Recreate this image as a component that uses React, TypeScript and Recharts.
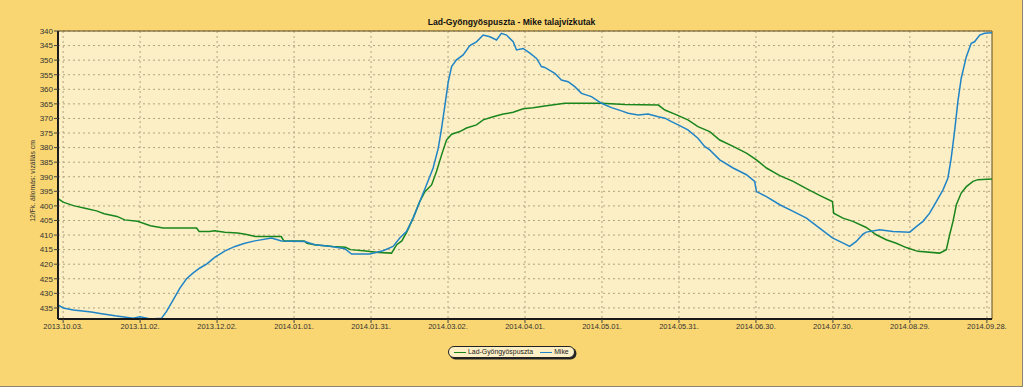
import React from 'react';
import { LineChart, Line, XAxis, YAxis, CartesianGrid, ReferenceArea } from 'recharts';

const TITLE = 'Lad-Gyöngyöspuszta - Mike talajvízkutak';
const Y_LABEL = '12/Fk. állomás: vízállás cm';
const SERIES_NAMES = ['Lad-Gyöngyöspuszta', 'Mike'];
const SERIES_COLORS = ['#19861c', '#1f84c6'];

// day offsets counted from 2013.10.01.
const TICK_DAYS = [2, 32, 62, 92, 122, 152, 182, 212, 242, 272, 302, 332, 362];
const TICK_LABELS = [
  '2013.10.03.', '2013.11.02.', '2013.12.02.', '2014.01.01.', '2014.01.31.', '2014.03.02.',
  '2014.04.01.', '2014.05.01.', '2014.05.31.', '2014.06.30.', '2014.07.30.', '2014.08.29.', '2014.09.28.',
];
const Y_TICKS = [340, 345, 350, 355, 360, 365, 370, 375, 380, 385, 390, 395, 400, 405, 410, 415, 420, 425, 430, 435];

const greenDays = [
  0, 2, 6, 10.5, 15, 18, 23, 26, 31, 36, 41, 54, 55, 59, 61, 65, 70, 73, 77, 87, 88, 96, 97, 100, 107, 112, 114, 120, 125, 130,
  132, 134, 136, 138.4, 141, 143, 145.6, 147.5, 149.5, 151.4, 153.4, 156.6, 159.2, 163.1, 165.7, 169.6, 173.5, 177.4, 181.3,
  185.2, 189.7, 197.5, 211.8, 221, 234, 236.5, 240.4, 245.5, 249.4, 254, 257.9, 263.1, 268.3, 272.2, 276.1, 281.3, 286.5,
  291.7, 296.8, 301.8, 302.3, 305.9, 309.8, 315, 318.9, 322.8, 326.7, 330.6, 335.1, 343.6, 346.2, 347.5, 348.8, 350.1, 352,
  354, 356.6, 358.5, 364,
];
const greenLevels = [
  397.5, 398.7, 399.9, 400.8, 401.7, 402.7, 403.6, 404.8, 405.3, 406.8, 407.6, 407.6, 408.8, 408.8, 408.5, 409, 409.3, 409.7,
  410.5, 410.5, 412, 412, 412.8, 413.3, 413.9, 414.2, 415, 415.5, 416, 416.2,
  413.3, 412, 408.8, 404.2, 398.5, 395.1, 392.8, 388.2, 382.5, 377.4, 375.4, 374.5, 373.3, 372.2, 370.5, 369.4, 368.5, 367.9,
  366.7, 366.3, 365.7, 364.8, 364.8, 365.2, 365.4, 367.1, 368.5, 370.5, 372.8, 374.5, 377.4, 379.6, 381.9, 384.2, 387, 389.6,
  391.6, 394.1, 396.4, 398.5, 402.5, 404.2, 405.3, 407.4, 409.9, 411.6, 412.8, 414.3, 415.6, 416.2, 415, 409.9, 405.3, 399.6,
  395.6, 393.4, 391.6, 391, 390.8,
];

const blueDays = [
  0, 2, 6, 13, 16.4, 22.2, 29.3, 32, 36, 40.4, 42.3, 44.9, 47.5, 50.1, 52.7, 55.3, 57.9, 61.2, 65.1, 69, 72.8, 76.7, 83.2,
  87.1, 96.2, 100.1, 106.6, 111.8, 114.4, 121.5, 126.7, 130.6, 133.2, 135.8, 138.4, 141, 143.6, 146.2, 148.2, 149.5, 150.8,
  152.1, 153.4, 155.3, 157.9, 160.5, 163.1, 165.7, 168.3, 170.9, 172.8, 174.8, 177.4, 178.7, 181.3, 183.9, 186.5, 188.4,
  189.7, 193.6, 196.2, 198.8, 201.4, 204, 207.9, 211.8, 215.7, 219.6, 222.2, 226.1, 230, 233.9, 236.5, 239.1, 241.7, 245.5,
  249.4, 252, 254, 257.9, 263.1, 268.3, 271.5, 272.2, 276.1, 281.3, 286.5, 291.7, 296.8, 301.8, 307.2, 308.5, 311.1, 313.7,
  315, 320.2, 325.4, 331.9, 334.5, 337.1, 339.7, 342.3, 344.9, 346.8, 348.1, 349.4, 350.7, 352, 354, 355.9, 357.2, 359.2,
  361.1, 364,
];
const blueLevels = [
  434, 435, 435.7, 436.4, 436.9, 437.7, 438.5, 438, 438.8, 438.5, 436.2, 432.2, 428.2, 425, 423, 421.3, 420, 417.6, 415.4,
  413.9, 412.8, 412, 411, 412, 412.2, 413.3, 413.9, 414.7, 416.5, 416.5, 415.4, 413.9, 411, 408.8, 404.2, 398.5, 392.8, 387,
  380.2, 373.3, 365.4, 357.4, 352.2, 349.9, 348.2, 345, 343.7, 341.4, 342, 343.1, 340.8, 341.4, 343.7, 346.5, 346, 347.6,
  349.4, 352.2, 352.5, 354.5, 356.8, 357.4, 359.1, 361.4, 362.5, 364.8, 366.3, 367.4, 368.2, 368.8, 368.5, 369.4, 369.9,
  371.1, 372.2, 373.9, 376.8, 379.6, 380.8, 384.2, 387, 389.3, 391.6, 395.1, 396.8, 399.6, 401.9, 404.2, 407.6, 411, 413.3,
  413.9, 412.2, 409.7, 409, 408.2, 408.8, 409, 407.1, 405.3, 402.5, 398.5, 394.5, 390.5, 383.6, 374.5, 364.2, 356.2, 348.8,
  344.2, 343.7, 341.4, 340.8, 340.6,
];

const X_DOMAIN = [0, 364];
const Y_DOMAIN = [340, 438.8];

const greenData = greenDays.map((d, i) => ({ day: d, level: greenLevels[i] }));
const blueData = blueDays.map((d, i) => ({ day: d, level: blueLevels[i] }));

const FONT = '"Liberation Sans", Arial, sans-serif';

export default function App() {
  const fmtX = (v: number) => {
    const i = TICK_DAYS.indexOf(v);
    return i >= 0 ? TICK_LABELS[i] : '';
  };
  return (
    <div
      style={{
        position: 'fixed', left: 0, top: 0, width: 1023, height: 387, background: '#f9d672',
        fontFamily: FONT, overflow: 'hidden', boxSizing: 'border-box',
        borderRight: '1px solid #8a8470', borderBottom: '1px solid #8a8470',
      }}
    >
      <div
        style={{
          position: 'absolute', top: 17, left: 0, width: 1023, textAlign: 'center',
          fontSize: 8.6, fontWeight: 'bold', color: '#111', lineHeight: '11px',
        }}
      >
        {TITLE}
      </div>
      <LineChart
        width={1023}
        height={387}
        margin={{ top: 31, right: 31, bottom: 0, left: 0 }}
        style={{ fontFamily: FONT }}
      >
        <CartesianGrid
          fill="#fcefc6"
          stroke="#b2a47e"
          strokeDasharray="2 3"
          horizontalValues={Y_TICKS}
          verticalValues={TICK_DAYS}
        />
        <XAxis
          dataKey="day"
          type="number"
          domain={X_DOMAIN}
          ticks={TICK_DAYS}
          tickFormatter={fmtX}
          allowDataOverflow
          height={68}
          axisLine={{ stroke: '#1a1a1a', strokeWidth: 2 }}
          tickLine={{ stroke: '#444' }}
          tickSize={4}
          tickMargin={1}
          tick={{ fontSize: 7.5, fill: '#333' }}
          interval={0}
        />
        <YAxis
          type="number"
          reversed
          domain={Y_DOMAIN}
          ticks={Y_TICKS}
          allowDataOverflow
          width={58}
          axisLine={{ stroke: '#1a1a1a', strokeWidth: 2 }}
          tickLine={{ stroke: '#444' }}
          tickSize={4}
          tickMargin={1}
          tick={{ fontSize: 8, fill: '#333' }}
          interval={0}
          label={{ value: Y_LABEL, angle: -90, position: 'center', dx: 4, dy: 6, style: { fontSize: 6.8, fill: '#333' } }}
        />
        <ReferenceArea
          x1={X_DOMAIN[0]}
          x2={X_DOMAIN[1]}
          y1={Y_DOMAIN[0]}
          y2={Y_DOMAIN[1]}
          fill="none"
          stroke="#5c4a1e"
          strokeWidth={1}
          ifOverflow="visible"
        />
        <Line
          data={greenData}
          dataKey="level"
          name={SERIES_NAMES[0]}
          type="linear"
          stroke={SERIES_COLORS[0]}
          strokeWidth={1.5}
          dot={false}
          isAnimationActive={false}
        />
        <Line
          data={blueData}
          dataKey="level"
          name={SERIES_NAMES[1]}
          type="linear"
          stroke={SERIES_COLORS[1]}
          strokeWidth={1.5}
          dot={false}
          isAnimationActive={false}
        />
      </LineChart>
      <div
        style={{
          position: 'absolute', left: 448, top: 346, height: 10, borderRadius: 6,
          border: '1px solid #222', boxShadow: '1.5px 1.5px 0 #222', background: '#fcefc6',
          display: 'inline-flex', alignItems: 'center', fontSize: 6.9, color: '#222',
          boxSizing: 'content-box', paddingRight: 5,
        }}
      >
        {SERIES_NAMES.map((n, i) => (
          <div key={n} style={{ display: 'flex', alignItems: 'center', marginLeft: i === 0 ? 5 : 7 }}>
            <div style={{ width: 12, height: 0, borderTop: `1.5px solid ${SERIES_COLORS[i]}`, marginRight: 2 }} />
            <span style={{ lineHeight: '10px', whiteSpace: 'nowrap' }}>{n}</span>
          </div>
        ))}
      </div>
    </div>
  );
}
